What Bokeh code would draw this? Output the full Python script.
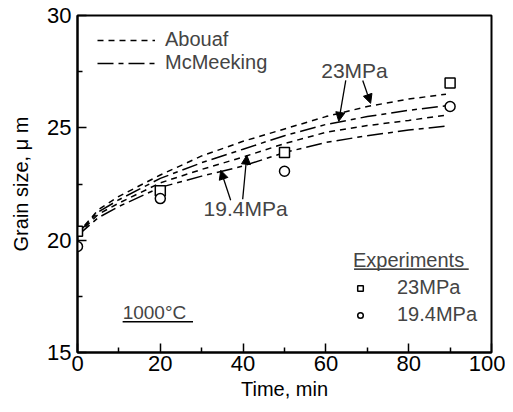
from bokeh.plotting import figure
from bokeh.models import (Range1d, Legend, LegendItem, Label, Arrow, NormalHead,
                          FixedTicker, BoxAnnotation)
from bokeh.embed import file_html
from bokeh.resources import INLINE

# ---- data ----
model_time = [0, 5, 10, 20, 30, 40, 50, 60, 70, 80, 89]
abouaf_23 = [20.3, 21.35, 21.95, 22.9, 23.75, 24.4, 24.95, 25.5, 25.95, 26.28, 26.5]
mcmeeking_23 = [20.3, 21.25, 21.8, 22.75, 23.45, 24.05, 24.65, 25.15, 25.5, 25.78, 25.98]
abouaf_194 = [20.25, 21.15, 21.65, 22.55, 23.15, 23.7, 24.3, 24.8, 25.1, 25.33, 25.56]
mcmeeking_194 = [20.2, 21.0, 21.5, 22.35, 22.85, 23.3, 23.9, 24.35, 24.65, 24.9, 25.08]

exp_time = [0, 20, 50, 90]
exp_23 = [20.4, 22.2, 23.9, 27.0]
exp_194 = [19.72, 21.85, 23.07, 25.95]

x_ticks = [0, 20, 40, 60, 80, 100]
y_ticks = [15, 20, 25, 30]

FONT = "Liberation Sans"

p = figure(width=505, height=402, output_backend="svg", toolbar_location=None,
           x_range=Range1d(0, 100), y_range=Range1d(15, 30),
           min_border_left=77, min_border_right=14, min_border_top=15, min_border_bottom=50,
           background_fill_color="white", border_fill_color="white")
p.grid.visible = False
p.outline_line_color = "black"
p.outline_line_width = 2

for ax, ticks in ((p.xaxis[0], x_ticks), (p.yaxis[0], y_ticks)):
    ax.ticker = FixedTicker(ticks=ticks, minor_ticks=[t + (ticks[1] - ticks[0]) / 2 for t in ticks[:-1]])
    ax.axis_line_width = 2
    ax.axis_line_color = "black"
    ax.major_tick_in = 9
    ax.major_tick_out = 0
    ax.minor_tick_in = 5
    ax.minor_tick_out = 0
    ax.major_tick_line_width = 1.5
    ax.minor_tick_line_width = 1.5
    ax.major_label_text_font = FONT
    ax.major_label_text_font_size = "22px"
    ax.major_label_text_color = "black"
    ax.axis_label_text_font = FONT
    ax.axis_label_text_font_size = "20px"
    ax.axis_label_text_font_style = "normal"
    ax.axis_label_text_color = "black"

p.xaxis.axis_label = "Time, min"
p.xaxis.major_label_standoff = 3
p.xaxis.axis_label_standoff = 4
p.yaxis.axis_label = "Grain size, \u03bc m"
p.yaxis.major_label_standoff = 6
p.yaxis.axis_label_standoff = 12

LW = 1.5
r_a23 = p.line(model_time, abouaf_23, line_color="black", line_width=LW, line_dash="6 5")
r_m23 = p.line(model_time, mcmeeking_23, line_color="black", line_width=LW, line_dash="16 5 5 5")
p.line(model_time, abouaf_194, line_color="black", line_width=LW, line_dash="6 5")
p.line(model_time, mcmeeking_194, line_color="black", line_width=LW, line_dash="16 5 5 5")

r_sq = p.scatter(exp_time, exp_23, marker="square", size=10, fill_color="white",
                 line_color="black", line_width=1.5)
r_ci = p.scatter(exp_time, exp_194, marker="circle", size=10, fill_color="white",
                 line_color="black", line_width=1.5)

# model legend (top left)
leg1 = Legend(items=[LegendItem(label="Abouaf", renderers=[r_a23]),
                     LegendItem(label="McMeeking", renderers=[r_m23])],
              location=(20, 278), padding=0, margin=0, spacing=0,
              glyph_width=58, glyph_height=20, label_height=20, label_standoff=10,
              label_text_font=FONT, label_text_font_size="20px",
              border_line_color=None, background_fill_alpha=0)
p.add_layout(leg1)

# experiments legend (bottom right)
leg2 = Legend(items=[LegendItem(label="23MPa", renderers=[r_sq]),
                     LegendItem(label="19.4MPa", renderers=[r_ci])],
              title="Experiments", title_text_font=FONT, title_text_font_size="20px",
              title_text_font_style="normal", title_standoff=4,
              location=(276, 26), padding=0, margin=0, spacing=4,
              glyph_width=14, glyph_height=20, label_height=20, label_standoff=30,
              label_text_font=FONT, label_text_font_size="20px",
              border_line_color=None, background_fill_alpha=0)
p.add_layout(leg2)
p.add_layout(BoxAnnotation(left=66.8, right=94.5, bottom=18.68, top=18.74,
                           fill_color="black", fill_alpha=1, line_color=None))

# temperature label
p.add_layout(Label(x=10.9, y=16.76, text="1000\u00b0C", text_font=FONT,
                   text_font_size="19px", text_baseline="middle", text_align="left"))
p.add_layout(BoxAnnotation(left=10.9, right=27.9, bottom=16.34, top=16.40,
                           fill_color="black", fill_alpha=1, line_color=None))

# pressure annotations with arrows
p.add_layout(Label(x=66.9, y=27.56, text="23MPa", text_font=FONT, text_font_size="21px",
                   text_baseline="middle", text_align="center"))
p.add_layout(Label(x=40.6, y=21.42, text="19.4MPa", text_font=FONT, text_font_size="21px",
                   text_baseline="middle", text_align="center"))

arrows = [((64.8, 27.11), (63.1, 25.29)),
          ((68.9, 27.11), (70.8, 26.09)),
          ((37.0, 21.78), (34.6, 23.11)),
          ((39.9, 21.82), (40.9, 23.78))]
for (xs, ys), (xe, ye) in arrows:
    p.add_layout(Arrow(x_start=xs, y_start=ys, x_end=xe, y_end=ye, line_width=1.3,
                       end=NormalHead(size=9, fill_color="black", line_color="black")))

open("out.html", "w").write(file_html(p, INLINE))
